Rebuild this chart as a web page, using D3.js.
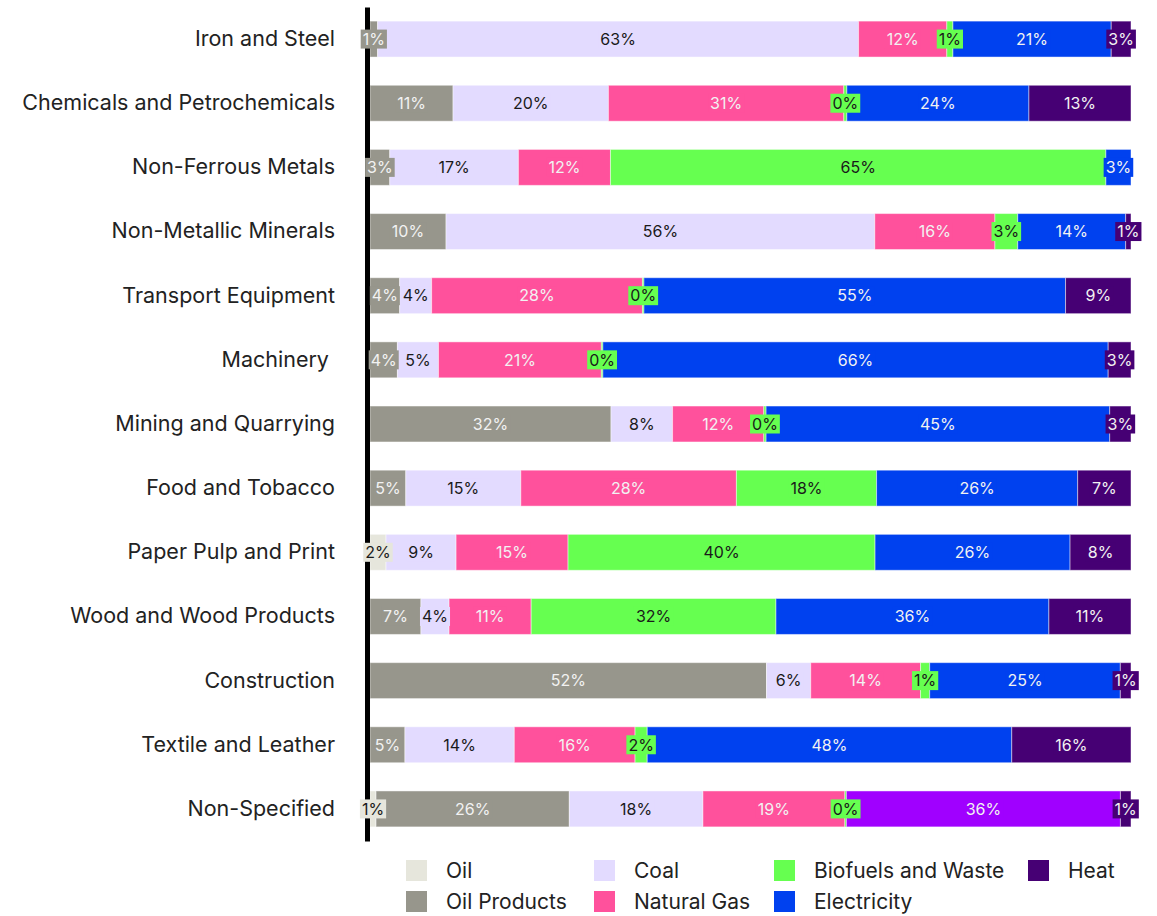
<!DOCTYPE html>
<html>
<head>
<meta charset="utf-8">
<script src="https://cdn.jsdelivr.net/npm/d3@7"></script>
<style>
  body { margin: 0; background: #fff; }
  svg { font-family: Inter, "Noto Sans", sans-serif; }
</style>
</head>
<body>
<div id="chart"></div>
<script>
// 行业类别
const categories = [
    "Iron and Steel", "Chemicals and Petrochemicals", "Non-Ferrous Metals",
    "Non-Metallic Minerals", "Transport Equipment", "Machinery ",
    "Mining and Quarrying", "Food and Tobacco", "Paper Pulp and Print",
    "Wood and Wood Products", "Construction", "Textile and Leather", "Non-Specified"
];

// 各能源占比 (%)
const oil         = [0, 0, 0, 0, 0, 0, 0, 0, 2.1, 0, 0, 0, 0.8];
const oilProducts = [1.0, 10.9, 2.6, 10.0, 3.9, 3.6, 31.7, 4.7, 0, 6.7, 52.0, 4.6, 25.6];
const coal        = [63.2, 20.4, 16.9, 56.4, 4.2, 5.4, 8.1, 15.1, 9.2, 3.7, 5.8, 14.4, 17.7];
const naturalGas  = [11.6, 30.9, 12.1, 15.8, 27.7, 21.4, 12.0, 28.3, 14.7, 10.8, 14.4, 15.9, 18.8];
const biofuels    = [0.8, 0.4, 65.1, 3.0, 0.2, 0.2, 0.3, 18.4, 40.3, 32.2, 1.2, 1.6, 0.2];
const electricity = [20.8, 23.9, 3.3, 14.2, 55.4, 66.4, 45.2, 26.4, 25.6, 35.9, 25.0, 48.0, 0];
const other       = [0, 0, 0, 0, 0, 0, 0, 0, 0, 0, 0, 0, 36.3];
const heat        = [2.6, 13.4, 0, 0.7, 8.6, 3.0, 2.8, 7.0, 8.0, 10.8, 1.4, 15.7, 1.4];

const seriesNames = ["Oil", "Oil Products", "Coal", "Natural Gas", "Biofuels and Waste", "Electricity", "Other", "Heat"];
const seriesValues = [oil, oilProducts, coal, naturalGas, biofuels, electricity, other, heat];
const legendNames = ["Oil", "Oil Products", "Coal", "Natural Gas", "Biofuels and Waste", "Electricity", "Heat"];

const colors = {
    "Oil": "#e6e6dc",
    "Oil Products": "#97968c",
    "Coal": "#e3dbff",
    "Natural Gas": "#ff519c",
    "Biofuels and Waste": "#66ff50",
    "Electricity": "#0041ef",
    "Other": "#a000ff",
    "Heat": "#460074"
};
const darkText = new Set(["Oil", "Coal", "Biofuels and Waste"]);

function drawChart() {
    const width = 1157, height = 916;
    const svg = d3.select("#chart").append("svg")
        .attr("width", width)
        .attr("height", height);

    // 表格数据, 每行归一化
    const rows = categories.map((c, i) => {
        const row = { category: c };
        seriesNames.forEach((s, j) => row[s] = seriesValues[j][i]);
        row.total = d3.sum(seriesNames, s => row[s]);
        return row;
    });

    const x = d3.scaleLinear().domain([0, 100]).range([370, 1131]);
    const y = d3.scaleBand()
        .domain(categories)
        .range([7, 841])
        .paddingInner(0.44)
        .paddingOuter(0.22);

    const stacked = d3.stack()
        .keys(seriesNames)
        .value((d, key) => d[key] / d.total * 100)(rows);

    // 柱子
    svg.append("g")
        .selectAll("g")
        .data(stacked)
        .join("g")
        .attr("fill", d => colors[d.key])
        .selectAll("rect")
        .data(d => d.filter(p => p[1] - p[0] > 0))
        .join("rect")
        .attr("x", d => x(d[0]))
        .attr("y", d => y(d.data.category))
        .attr("width", d => x(d[1]) - x(d[0]))
        .attr("height", y.bandwidth())
        .attr("stroke", "rgba(255,255,255,0.45)")
        .attr("stroke-width", 1);

    // 纵轴
    const axis = svg.append("g")
        .attr("transform", "translate(367,0)")
        .call(d3.axisLeft(y).tickSize(0).tickPadding(32));
    axis.select(".domain").attr("stroke", "#000").attr("stroke-width", 5);
    axis.selectAll("text")
        .attr("font-size", "21.5px")
        .attr("fill", "#222")
        .attr("font-family", "Inter, sans-serif")
        .style("white-space", "pre");

    // 数值标签
    const labels = [];
    stacked.forEach(s => {
        s.forEach((p, i) => {
            const raw = seriesValues[seriesNames.indexOf(s.key)][i];
            if (raw > 0) labels.push({ key: s.key, p: p, text: Math.round(raw) + "%" });
        });
    });

    const lab = svg.append("g").selectAll("g")
        .data(labels)
        .join("g")
        .attr("transform", d => `translate(${(x(d.p[0]) + x(d.p[1])) / 2},${y(d.p.data.category) + y.bandwidth() / 2})`);

    lab.append("text")
        .attr("text-anchor", "middle")
        .attr("dy", "0.36em")
        .attr("font-size", "16px")
        .attr("fill", d => darkText.has(d.key) ? "#1a1a1a" : "#f2f2f2")
        .text(d => d.text);

    lab.each(function(d) {
        const g = d3.select(this);
        const bb = g.select("text").node().getBBox();
        g.insert("rect", "text")
            .attr("x", bb.x - 2)
            .attr("y", -9.5)
            .attr("width", bb.width + 4)
            .attr("height", 19)
            .attr("fill", colors[d.key]);
    });

    // 图例
    const legend = svg.append("g");
    const colX = [406, 594, 774, 1028];
    const rowY = [871, 902];
    legendNames.forEach((name, i) => {
        const item = legend.append("g")
            .attr("transform", `translate(${colX[Math.floor(i / 2)]},${rowY[i % 2]})`);
        item.append("rect")
            .attr("x", 0)
            .attr("y", -11)
            .attr("width", 21)
            .attr("height", 21)
            .attr("fill", colors[name]);
        item.append("text")
            .attr("x", 40)
            .attr("dy", "0.35em")
            .attr("font-size", "21px")
            .attr("fill", "#222")
            .text(name);
    });
}

drawChart();
</script>
</body>
</html>
